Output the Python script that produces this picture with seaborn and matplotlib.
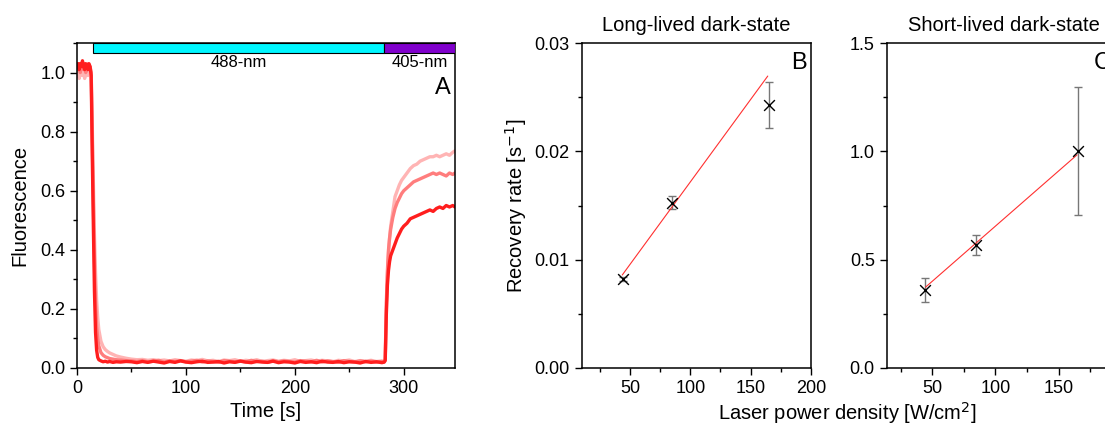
import matplotlib.pyplot as plt
import seaborn as sns
from matplotlib.ticker import AutoMinorLocator, MultipleLocator

# ---- datos panel A (fluorescencia vs tiempo) ----
tiempo = ([0, 1, 2, 3, 4, 5, 6, 7, 8, 9, 10, 11, 12, 13]
          + [14, 15, 16, 17, 18, 19, 20, 22, 24, 26, 28, 30, 33, 36, 40, 45]
          + [50, 55, 60, 65, 70, 75, 80, 85, 90, 95,
             100, 105, 110, 115, 120, 125, 130, 135, 140, 145,
             150, 155, 160, 165, 170, 175, 180, 185, 190, 195,
             200, 205, 210, 215, 220, 225, 230, 235, 240, 245,
             250, 255, 260, 265, 270, 275, 280]
          + [282, 283, 284, 285, 286, 287, 288, 290, 292, 294, 296, 298, 300,
             303, 306, 309, 312, 315, 318, 321, 324, 327, 330, 333, 336, 339,
             342, 345, 347])

fluo_oscuro = ([1.02, 1.03, 1.01, 1.03, 1.02, 1.04, 1.02, 1.01, 1.03, 1.02, 1.01, 1.03, 1.02, 0.99]
               + [0.72, 0.48, 0.26, 0.12, 0.06, 0.036, 0.028, 0.024, 0.021, 0.023, 0.020, 0.022, 0.019, 0.021, 0.020, 0.022]
               + [0.021, 0.018, 0.022, 0.019, 0.023, 0.020, 0.017, 0.022, 0.019, 0.024,
                  0.020, 0.018, 0.021, 0.023, 0.019, 0.020, 0.022, 0.017, 0.021, 0.019,
                  0.023, 0.020, 0.018, 0.022, 0.020, 0.019, 0.023, 0.018, 0.021, 0.020,
                  0.017, 0.022, 0.019, 0.021, 0.018, 0.023, 0.020, 0.019, 0.022, 0.018,
                  0.021, 0.020, 0.017, 0.022, 0.019, 0.021, 0.018]
               + [0.02, 0.025, 0.18, 0.28, 0.33, 0.36, 0.38, 0.40, 0.42, 0.44, 0.455, 0.47, 0.48,
                  0.49, 0.505, 0.51, 0.515, 0.52, 0.525, 0.53, 0.535, 0.53, 0.54, 0.545, 0.54, 0.55,
                  0.545, 0.55, 0.545])

fluo_medio = ([1.01, 1.03, 1.02, 1.00, 1.03, 1.02, 1.01, 1.03, 1.00, 1.02, 1.03, 1.01, 1.02, 1.00]
              + [0.78, 0.56, 0.36, 0.22, 0.14, 0.10, 0.075, 0.052, 0.043, 0.038, 0.035, 0.032, 0.030, 0.028, 0.027, 0.025]
              + [0.024, 0.022, 0.025, 0.021, 0.023, 0.026, 0.020, 0.024, 0.022, 0.025,
                 0.021, 0.023, 0.026, 0.020, 0.024, 0.022, 0.019, 0.025, 0.023, 0.021,
                 0.024, 0.020, 0.026, 0.022, 0.023, 0.019, 0.025, 0.021, 0.024, 0.022,
                 0.020, 0.025, 0.023, 0.021, 0.026, 0.020, 0.024, 0.022, 0.019, 0.025,
                 0.022, 0.020, 0.024, 0.021, 0.023, 0.020, 0.022]
              + [0.02, 0.03, 0.22, 0.33, 0.40, 0.44, 0.47, 0.51, 0.54, 0.56, 0.575, 0.59, 0.60,
                 0.61, 0.62, 0.63, 0.635, 0.64, 0.645, 0.65, 0.655, 0.66, 0.655, 0.66, 0.655, 0.65,
                 0.66, 0.655, 0.66])

fluo_claro = ([0.99, 1.01, 0.98, 1.00, 1.02, 0.99, 1.01, 0.98, 1.00, 1.01, 0.99, 1.02, 1.00, 1.00]
              + [0.82, 0.63, 0.45, 0.32, 0.23, 0.17, 0.13, 0.09, 0.072, 0.062, 0.056, 0.051, 0.046, 0.041, 0.037, 0.033]
              + [0.030, 0.028, 0.029, 0.026, 0.028, 0.025, 0.027, 0.024, 0.028, 0.025,
                 0.023, 0.027, 0.025, 0.029, 0.024, 0.026, 0.022, 0.027, 0.025, 0.028,
                 0.023, 0.026, 0.024, 0.028, 0.022, 0.025, 0.027, 0.023, 0.026, 0.024,
                 0.028, 0.022, 0.025, 0.027, 0.023, 0.026, 0.024, 0.021, 0.026, 0.024,
                 0.027, 0.022, 0.025, 0.023, 0.026, 0.022, 0.024]
              + [0.02, 0.03, 0.20, 0.31, 0.39, 0.44, 0.48, 0.53, 0.58, 0.60, 0.62, 0.635, 0.645,
                 0.66, 0.675, 0.685, 0.69, 0.70, 0.705, 0.71, 0.715, 0.715, 0.72, 0.715, 0.72, 0.725,
                 0.72, 0.73, 0.735])

# periodos de laser
laser_nombre = ['488-nm', '405-nm']
laser_inicio = [15, 282]
laser_fin = [282, 347]
laser_color = ['#00F6FF', '#8000CC']

# ---- datos paneles B y C ----
potencia = [44, 85, 165]
tasa_larga = [0.00824, 0.01526, 0.02428]
err_larga = [0.0002, 0.0006, 0.0021]
ajuste_x_larga = [43.6, 164.2]
ajuste_y_larga = [0.00858, 0.02695]

tasa_corta = [0.36, 0.568, 1.0]
err_corta = [0.055, 0.047, 0.295]
ajuste_x_corta = [44.7, 164.5]
ajuste_y_corta = [0.373, 0.984]

#%%
sns.set_theme(style='ticks')
plt.rcParams['font.family'] = ['Liberation Sans', 'DejaVu Sans']
plt.rcParams['xtick.labelsize'] = 13
plt.rcParams['ytick.labelsize'] = 13
plt.rcParams['axes.linewidth'] = 1.1
plt.rcParams['text.color'] = 'black'
plt.rcParams['axes.labelcolor'] = 'black'
plt.rcParams['xtick.color'] = 'black'
plt.rcParams['ytick.color'] = 'black'

fig = plt.figure(figsize=(11.05, 4.28), dpi=100)
axA = fig.add_axes([0.0697, 0.1402, 0.342, 0.7593])
axB = fig.add_axes([0.5264, 0.1402, 0.2075, 0.7593])
axC = fig.add_axes([0.8024, 0.1402, 0.2130, 0.7593])

# panel A
for y, c in zip([fluo_claro, fluo_medio, fluo_oscuro], ['#FFB4B4', '#FF7D7D', '#FF1E1E']):
    sns.lineplot(x=tiempo, y=y, ax=axA, color=c, linewidth=2.4)

anchos = [f - i for i, f in zip(laser_inicio, laser_fin)]
axA.barh(y=1.083, width=anchos, left=laser_inicio, height=0.034,
         color=laser_color, edgecolor='black', linewidth=0.8, zorder=5)
for nombre, i, f in zip(laser_nombre, laser_inicio, laser_fin):
    axA.text((i + f) / 2, 1.058, nombre, ha='center', va='top', fontsize=12)

axA.set_xlim(0, 347)
axA.set_ylim(0, 1.1)
axA.xaxis.set_major_locator(MultipleLocator(100))
axA.yaxis.set_major_locator(MultipleLocator(0.2))
axA.set_xlabel('Time [s]', fontsize=14.5)
axA.set_ylabel('Fluorescence', fontsize=14.5, labelpad=8)
axA.text(0.968, 0.862, 'A', transform=axA.transAxes, fontsize=17, ha='center', va='center')

# panel B
axB.errorbar(potencia, tasa_larga, yerr=err_larga, fmt='none', ecolor='#777777',
             elinewidth=1, capsize=3, capthick=1)
sns.lineplot(x=ajuste_x_larga, y=ajuste_y_larga, ax=axB, color='#FF3030', linewidth=0.8)
sns.scatterplot(x=potencia, y=tasa_larga, ax=axB, marker='x', s=60, color='black',
                linewidth=1, zorder=5)
axB.set_xlim(10, 200)
axB.set_ylim(0, 0.03)
axB.xaxis.set_major_locator(MultipleLocator(50))
axB.yaxis.set_major_locator(MultipleLocator(0.01))
axB.set_ylabel('Recovery rate [s$^{-1}$]', fontsize=14.5)
axB.set_title('Long-lived dark-state', fontsize=14.5, pad=9)
axB.text(0.948, 0.94, 'B', transform=axB.transAxes, fontsize=17, ha='center', va='center')

# panel C
axC.errorbar(potencia, tasa_corta, yerr=err_corta, fmt='none', ecolor='#777777',
             elinewidth=1, capsize=3, capthick=1)
sns.lineplot(x=ajuste_x_corta, y=ajuste_y_corta, ax=axC, color='#FF3030', linewidth=0.8)
sns.scatterplot(x=potencia, y=tasa_corta, ax=axC, marker='x', s=60, color='black',
                linewidth=1, zorder=5)
axC.set_xlim(14, 200)
axC.set_ylim(0, 1.5)
axC.set_xticks([50, 100, 150, 200])
axC.set_xticklabels(['50', '100', '150', ''])
axC.yaxis.set_major_locator(MultipleLocator(0.5))
axC.set_title('Short-lived dark-state', fontsize=14.5, pad=9)
axC.text(0.914, 0.94, 'C', transform=axC.transAxes, fontsize=17, ha='center', va='center')

for ax in [axA, axB, axC]:
    ax.xaxis.set_minor_locator(AutoMinorLocator(2))
    ax.yaxis.set_minor_locator(AutoMinorLocator(2))
    ax.tick_params(which='major', direction='out', length=5, width=1, top=False, right=False)
    ax.tick_params(which='minor', direction='out', length=3, width=1, top=False, right=False)
    for s in ax.spines.values():
        s.set_visible(True)
        s.set_color('black')

fig.text(0.7665, 0.035, 'Laser power density [W/cm$^2$]', ha='center', va='center', fontsize=14.5)

fig.savefig('out.png', dpi=100)
